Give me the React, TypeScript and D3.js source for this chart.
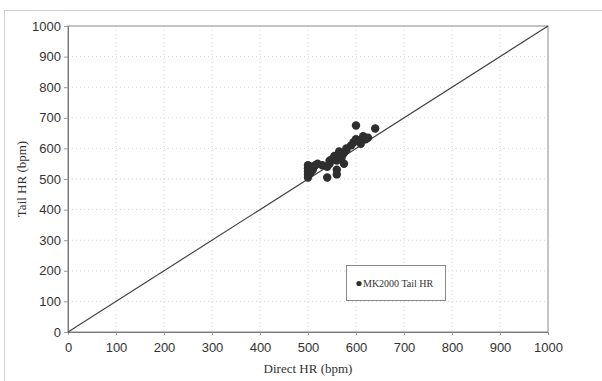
import React, { useRef, useEffect } from "react";
import * as d3 from "d3";

// Direct HR vs tail HR readings (bpm)
const directHR = [
  500, 500, 500, 500, 500, 505, 505, 510, 515, 520, 530, 540, 540, 545, 545,
  550, 555, 560, 560, 560, 565, 565, 570, 575, 575, 580, 580, 590, 595, 600,
  600, 605, 610, 615, 620, 625, 640,
];
const tailHR = [
  505, 515, 525, 535, 545, 520, 540, 530, 545, 550, 545, 505, 540, 560, 550,
  565, 575, 515, 530, 560, 580, 590, 570, 550, 585, 595, 600, 610, 620, 675,
  630, 625, 615, 640, 630, 635, 665,
];
const ticks = [0, 100, 200, 300, 400, 500, 600, 700, 800, 900, 1000];
const identity = [0, 1000];
const seriesName = "MK2000 Tail HR";

const App = () => {
  const svgRef = useRef<SVGSVGElement>(null);

  useEffect(() => {
    const svg = d3.select(svgRef.current);
    svg.selectAll("*").remove();

    const left = 68, right = 548, top = 26, bottom = 332;
    const x = d3.scaleLinear().domain([0, 1000]).range([left, right]);
    const y = d3.scaleLinear().domain([0, 1000]).range([bottom, top]);

    // outer frame
    svg.append("rect")
      .attr("x", 4.5).attr("y", 10.5)
      .attr("width", 620).attr("height", 400)
      .attr("fill", "white")
      .attr("stroke", "#d0d0d0");

    // dotted grid
    const grid = svg.append("g").attr("stroke", "#d8d8d8").attr("stroke-dasharray", "1,3");
    ticks.slice(1, -1).forEach((t) => {
      grid.append("line")
        .attr("x1", left).attr("x2", right)
        .attr("y1", y(t)).attr("y2", y(t));
      grid.append("line")
        .attr("x1", x(t)).attr("x2", x(t))
        .attr("y1", top).attr("y2", bottom);
    });

    // plot frame
    svg.append("rect")
      .attr("x", left).attr("y", top)
      .attr("width", right - left).attr("height", bottom - top)
      .attr("fill", "none")
      .attr("stroke", "#8a8a8a");

    // axes
    const fmt = d3.format("d");
    const xAxis = svg.append("g")
      .attr("transform", `translate(0, ${bottom})`)
      .call(d3.axisBottom(x).tickValues(ticks).tickFormat(fmt).tickSize(3).tickPadding(8));
    const yAxis = svg.append("g")
      .attr("transform", `translate(${left}, 0)`)
      .call(d3.axisLeft(y).tickValues(ticks).tickFormat(fmt).tickSize(4).tickPadding(3));
    [xAxis, yAxis].forEach((a) => {
      a.select(".domain").attr("stroke", "#777");
      a.selectAll("line").attr("stroke", "#999");
      a.selectAll("text")
        .attr("fill", "#333")
        .style("font-family", "Liberation Sans, Arial, sans-serif")
        .style("font-size", "13px");
    });

    // identity line
    svg.append("path")
      .datum(identity)
      .attr("fill", "none")
      .attr("stroke", "#444")
      .attr("stroke-width", 1.2)
      .attr("d", d3.line<number>().x((d) => x(d)).y((d) => y(d)));

    // points
    svg.append("g")
      .selectAll("circle")
      .data(directHR)
      .join("circle")
      .attr("cx", (d) => x(d))
      .attr("cy", (d, i) => y(tailHR[i]))
      .attr("r", 4.2)
      .attr("fill", "#2e2e2e");

    // axis titles
    svg.append("text")
      .attr("x", (left + right) / 2)
      .attr("y", 373)
      .attr("text-anchor", "middle")
      .style("font-family", "Liberation Serif, Times New Roman, serif")
      .style("font-size", "13px")
      .attr("fill", "#333")
      .text("Direct HR (bpm)");

    svg.append("text")
      .attr("transform", `translate(26, ${(top + bottom) / 2}) rotate(-90)`)
      .attr("text-anchor", "middle")
      .style("font-family", "Liberation Serif, Times New Roman, serif")
      .style("font-size", "13px")
      .attr("fill", "#333")
      .text("Tail HR (bpm)");

    // legend
    const legend = svg.append("g").attr("transform", "translate(346, 265)");
    legend.append("rect")
      .attr("x", 0.5).attr("y", 0.5)
      .attr("width", 99).attr("height", 35)
      .attr("fill", "white")
      .attr("stroke", "#888");
    legend.append("circle")
      .attr("cx", 13).attr("cy", 18.5)
      .attr("r", 2.6)
      .attr("fill", "#2e2e2e");
    legend.append("text")
      .attr("x", 17).attr("y", 22)
      .style("font-family", "Liberation Serif, Times New Roman, serif")
      .style("font-size", "10px")
      .attr("fill", "#333")
      .text(seriesName);
  }, []);

  return (
    <svg
      ref={svgRef}
      width={602}
      height={381}
      style={{ position: "absolute", left: 0, top: 0, background: "white" }}
    ></svg>
  );
};

export default App;
